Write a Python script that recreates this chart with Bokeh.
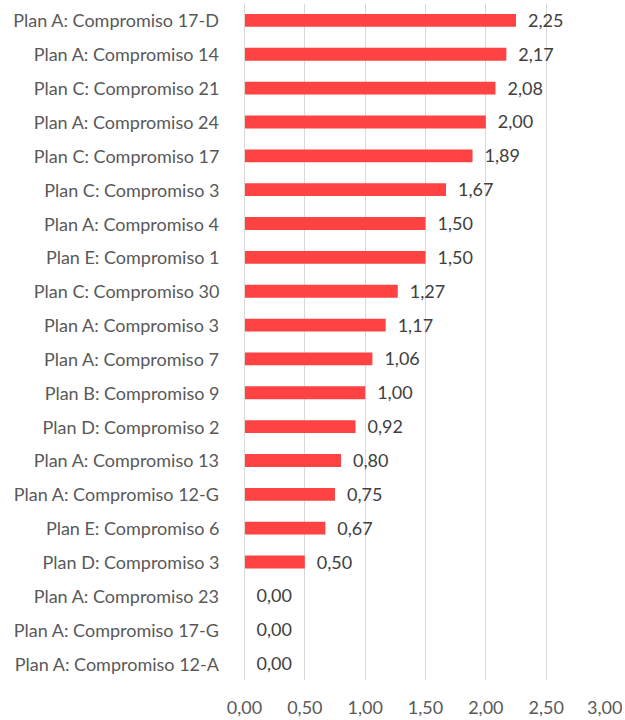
from bokeh.plotting import figure
from bokeh.models import ColumnDataSource, FixedTicker, CustomJSTickFormatter, Range1d
from bokeh.core.properties import value
from bokeh.embed import file_html
from bokeh.resources import INLINE

categories = [
    "Plan A: Compromiso 17-D", "Plan A: Compromiso 14", "Plan C: Compromiso 21",
    "Plan A: Compromiso 24", "Plan C: Compromiso 17", "Plan C: Compromiso 3",
    "Plan A: Compromiso 4", "Plan E: Compromiso 1", "Plan C: Compromiso 30",
    "Plan A: Compromiso 3", "Plan A: Compromiso 7", "Plan B: Compromiso 9",
    "Plan D: Compromiso 2", "Plan A: Compromiso 13", "Plan A: Compromiso 12-G",
    "Plan E: Compromiso 6", "Plan D: Compromiso 3", "Plan A: Compromiso 23",
    "Plan A: Compromiso 17-G", "Plan A: Compromiso 12-A",
]
values = [2.25, 2.17, 2.08, 2.00, 1.89, 1.67, 1.50, 1.50, 1.27, 1.17,
          1.06, 1.00, 0.92, 0.80, 0.75, 0.67, 0.50, 0.00, 0.00, 0.00]
x_ticks = [0, 0.5, 1.0, 1.5, 2.0, 2.5, 3.0]

labels = [f"{v:.2f}".replace(".", ",") for v in values]
src = ColumnDataSource(dict(cat=categories, val=values, lab=labels))

FONT = "Lato"
FS = "18px"
p = figure(
    y_range=list(reversed(categories)),
    x_range=Range1d(0, 3.0),
    frame_width=362, frame_height=677,
    min_border_left=244, min_border_right=16, min_border_top=3, min_border_bottom=37,
    output_backend="svg", toolbar_location=None,
)
p.outline_line_color = None
p.background_fill_color = "white"
p.border_fill_color = "white"

p.hbar(y="cat", right="val", left=0, height=0.38, source=src,
       fill_color="#FF4343", line_color=None)
p.text(x="val", y="cat", text="lab", source=src, x_offset=12,
       text_align="left", text_baseline="middle",
       text_font=value(FONT), text_font_size=FS, text_color="#404040")

p.ygrid.grid_line_color = None
p.xgrid.grid_line_color = "#D9D9D9"
p.xgrid.grid_line_width = 1
p.xaxis.ticker = FixedTicker(ticks=x_ticks)
p.xaxis.formatter = CustomJSTickFormatter(code="return tick.toFixed(2).replace('.', ',');")
p.xaxis.axis_line_color = None
p.xaxis.major_tick_line_color = None
p.xaxis.minor_tick_line_color = None
p.xaxis.major_label_standoff = 14
p.xaxis.major_label_text_font = FONT
p.xaxis.major_label_text_font_size = FS
p.xaxis.major_label_text_color = "#595959"

p.yaxis.axis_line_color = "#D9D9D9"
p.yaxis.major_tick_line_color = None
p.yaxis.minor_tick_line_color = None
p.yaxis.major_label_standoff = 19
p.yaxis.major_label_text_font = FONT
p.yaxis.major_label_text_font_size = FS
p.yaxis.major_label_text_color = "#595959"

open("out.html", "w").write(file_html(p, INLINE))
